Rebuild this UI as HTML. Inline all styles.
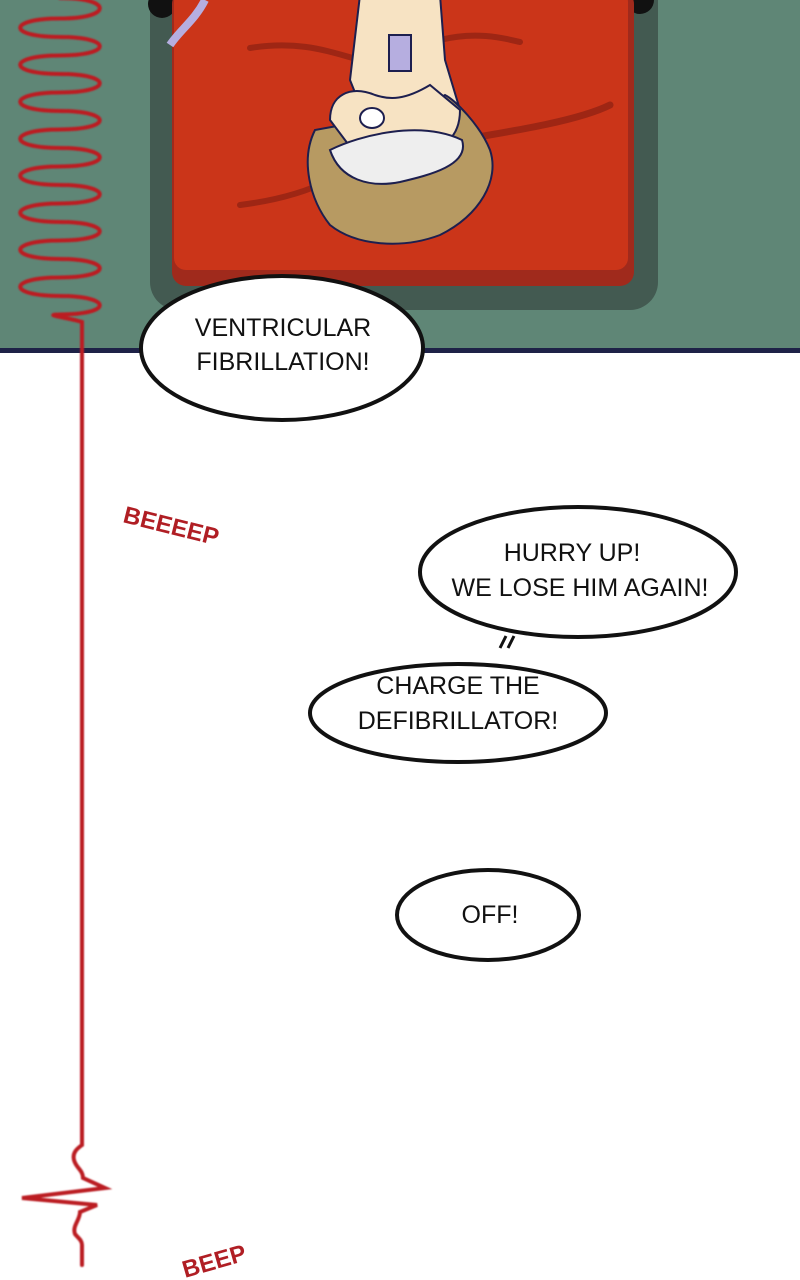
<!DOCTYPE html>
<html><head><meta charset="utf-8"><style>
html,body{margin:0;padding:0;background:#fff;}
svg{display:block}
text{font-family:"Liberation Sans Narrow","Liberation Sans",sans-serif;}
</style></head><body>
<svg width="800" height="1280" viewBox="0 0 800 1280" xmlns="http://www.w3.org/2000/svg">
<defs><filter id="bl"><feGaussianBlur stdDeviation="0.9"/></filter></defs>
<rect x="0" y="0" width="800" height="350" fill="#5f8676"/>
<!-- bed -->
<rect x="150" y="-30" width="508" height="340" rx="28" fill="#435a51"/>
<circle cx="162" cy="4" r="14" fill="#111"/>
<circle cx="640" cy="0" r="14" fill="#111"/>
<rect x="172" y="-10" width="462" height="296" rx="14" fill="#a02a1c"/>
<rect x="174" y="-10" width="454" height="280" rx="12" fill="#cb3519"/>
<path d="M250,48 C300,40 330,52 360,60" stroke="#9e2614" stroke-width="6" fill="none" stroke-linecap="round"/>
<path d="M440,40 C480,30 510,40 520,42" stroke="#9e2614" stroke-width="6" fill="none" stroke-linecap="round"/>
<path d="M460,140 C520,130 580,120 610,105" stroke="#9e2614" stroke-width="7" fill="none" stroke-linecap="round"/>
<path d="M240,205 C280,200 310,190 330,180" stroke="#9e2614" stroke-width="6" fill="none" stroke-linecap="round"/>
<!-- character -->
<path d="M360,-5 L440,-5 L445,60 L460,110 L420,150 L370,130 L350,80 Z" fill="#f7e3c3" stroke="#1d1f4f" stroke-width="2"/>
<path d="M315,130 C300,160 310,200 330,225 C355,245 400,250 440,235 C480,215 500,180 490,150 C480,125 455,100 445,95 L420,110 L370,120 Z" fill="#b79a62" stroke="#1d1f4f" stroke-width="2"/>
<path d="M330,120 C330,95 350,85 375,95 C390,100 405,100 430,85 L460,110 C460,140 440,150 420,150 L360,160 Z" fill="#f7e3c3" stroke="#1d1f4f" stroke-width="2"/>
<path d="M330,150 C360,135 420,120 462,140 C470,165 430,175 400,182 C370,188 340,180 330,150 Z" fill="#eeeeee" stroke="#1d1f4f" stroke-width="2"/>
<ellipse cx="372" cy="118" rx="12" ry="10" fill="#fff" stroke="#1d1f4f" stroke-width="2"/>
<rect x="389" y="35" width="22" height="36" fill="#b6aee0" stroke="#1d1f4f" stroke-width="2"/>
<path d="M170,45 C180,30 195,20 205,0" stroke="#b6aee0" stroke-width="8" fill="none"/>
<!-- separator -->
<rect x="0" y="348" width="800" height="5" fill="#1e2247"/>
<!-- red zigzag -->
<g filter="url(#bl)" stroke="#bb1e24" stroke-width="4" fill="none" stroke-linecap="round">
<path d="M60,-2 C113,-2 113,18.5 60,18.5 C7,18.5 7,37 60,37 C113,37 113,55.5 60,55.5 C7,55.5 7,74 60,74 C113,74 113,92.5 60,92.5 C7,92.5 7,111 60,111 C113,111 113,129.5 60,129.5 C7,129.5 7,148 60,148 C113,148 113,166.5 60,166.5 C7,166.5 7,185 60,185 C113,185 113,203.5 60,203.5 C7,203.5 7,222 60,222 C113,222 113,240.5 60,240.5 C7,240.5 7,259 60,259 C113,259 113,277.5 60,277.5 C7,277.5 7,296 60,296 C113,296 113,314.5 60,314.5 C40,314.5 70,318 82,322 L82,1145 C78,1148 72,1152 74,1160 C76,1168 83,1170 83,1178 L105,1188 L22,1198 L97,1205 L80,1212 C80,1220 72,1226 75,1234 C78,1238 82,1240 82,1245 L82,1265"/>
</g>
<!-- sound effects -->
<text x="122" y="522" transform="rotate(14 122 522)" font-size="24" font-weight="bold" fill="#b01e24" font-family="Liberation Sans, sans-serif">BEEEEP</text>
<text x="185" y="1278" transform="rotate(-16 185 1278)" font-size="24" font-weight="bold" fill="#b01e24" font-family="Liberation Sans, sans-serif">BEEP</text>
<!-- bubbles -->
<g fill="#fff" stroke="#111" stroke-width="4">
<ellipse cx="282" cy="348" rx="141" ry="72"/>
<ellipse cx="578" cy="572" rx="158" ry="65"/>
<ellipse cx="458" cy="713" rx="148" ry="49"/>
<ellipse cx="488" cy="915" rx="91" ry="45"/>
</g>
<path d="M500,646 L506,636 L514,636 L506,648 Z" fill="#fff"/>
<path d="M500,648 L506,636 M508,648 L514,636" stroke="#111" stroke-width="3"/>
<g font-size="25" fill="#111" text-anchor="middle">
<text x="283" y="336">VENTRICULAR</text>
<text x="283" y="370">FIBRILLATION!</text>
<text x="572" y="561">HURRY UP!</text>
<text x="580" y="596">WE LOSE HIM AGAIN!</text>
<text x="458" y="694">CHARGE THE</text>
<text x="458" y="729">DEFIBRILLATOR!</text>
<text x="490" y="923">OFF!</text>
</g>
</svg>
</body></html>
